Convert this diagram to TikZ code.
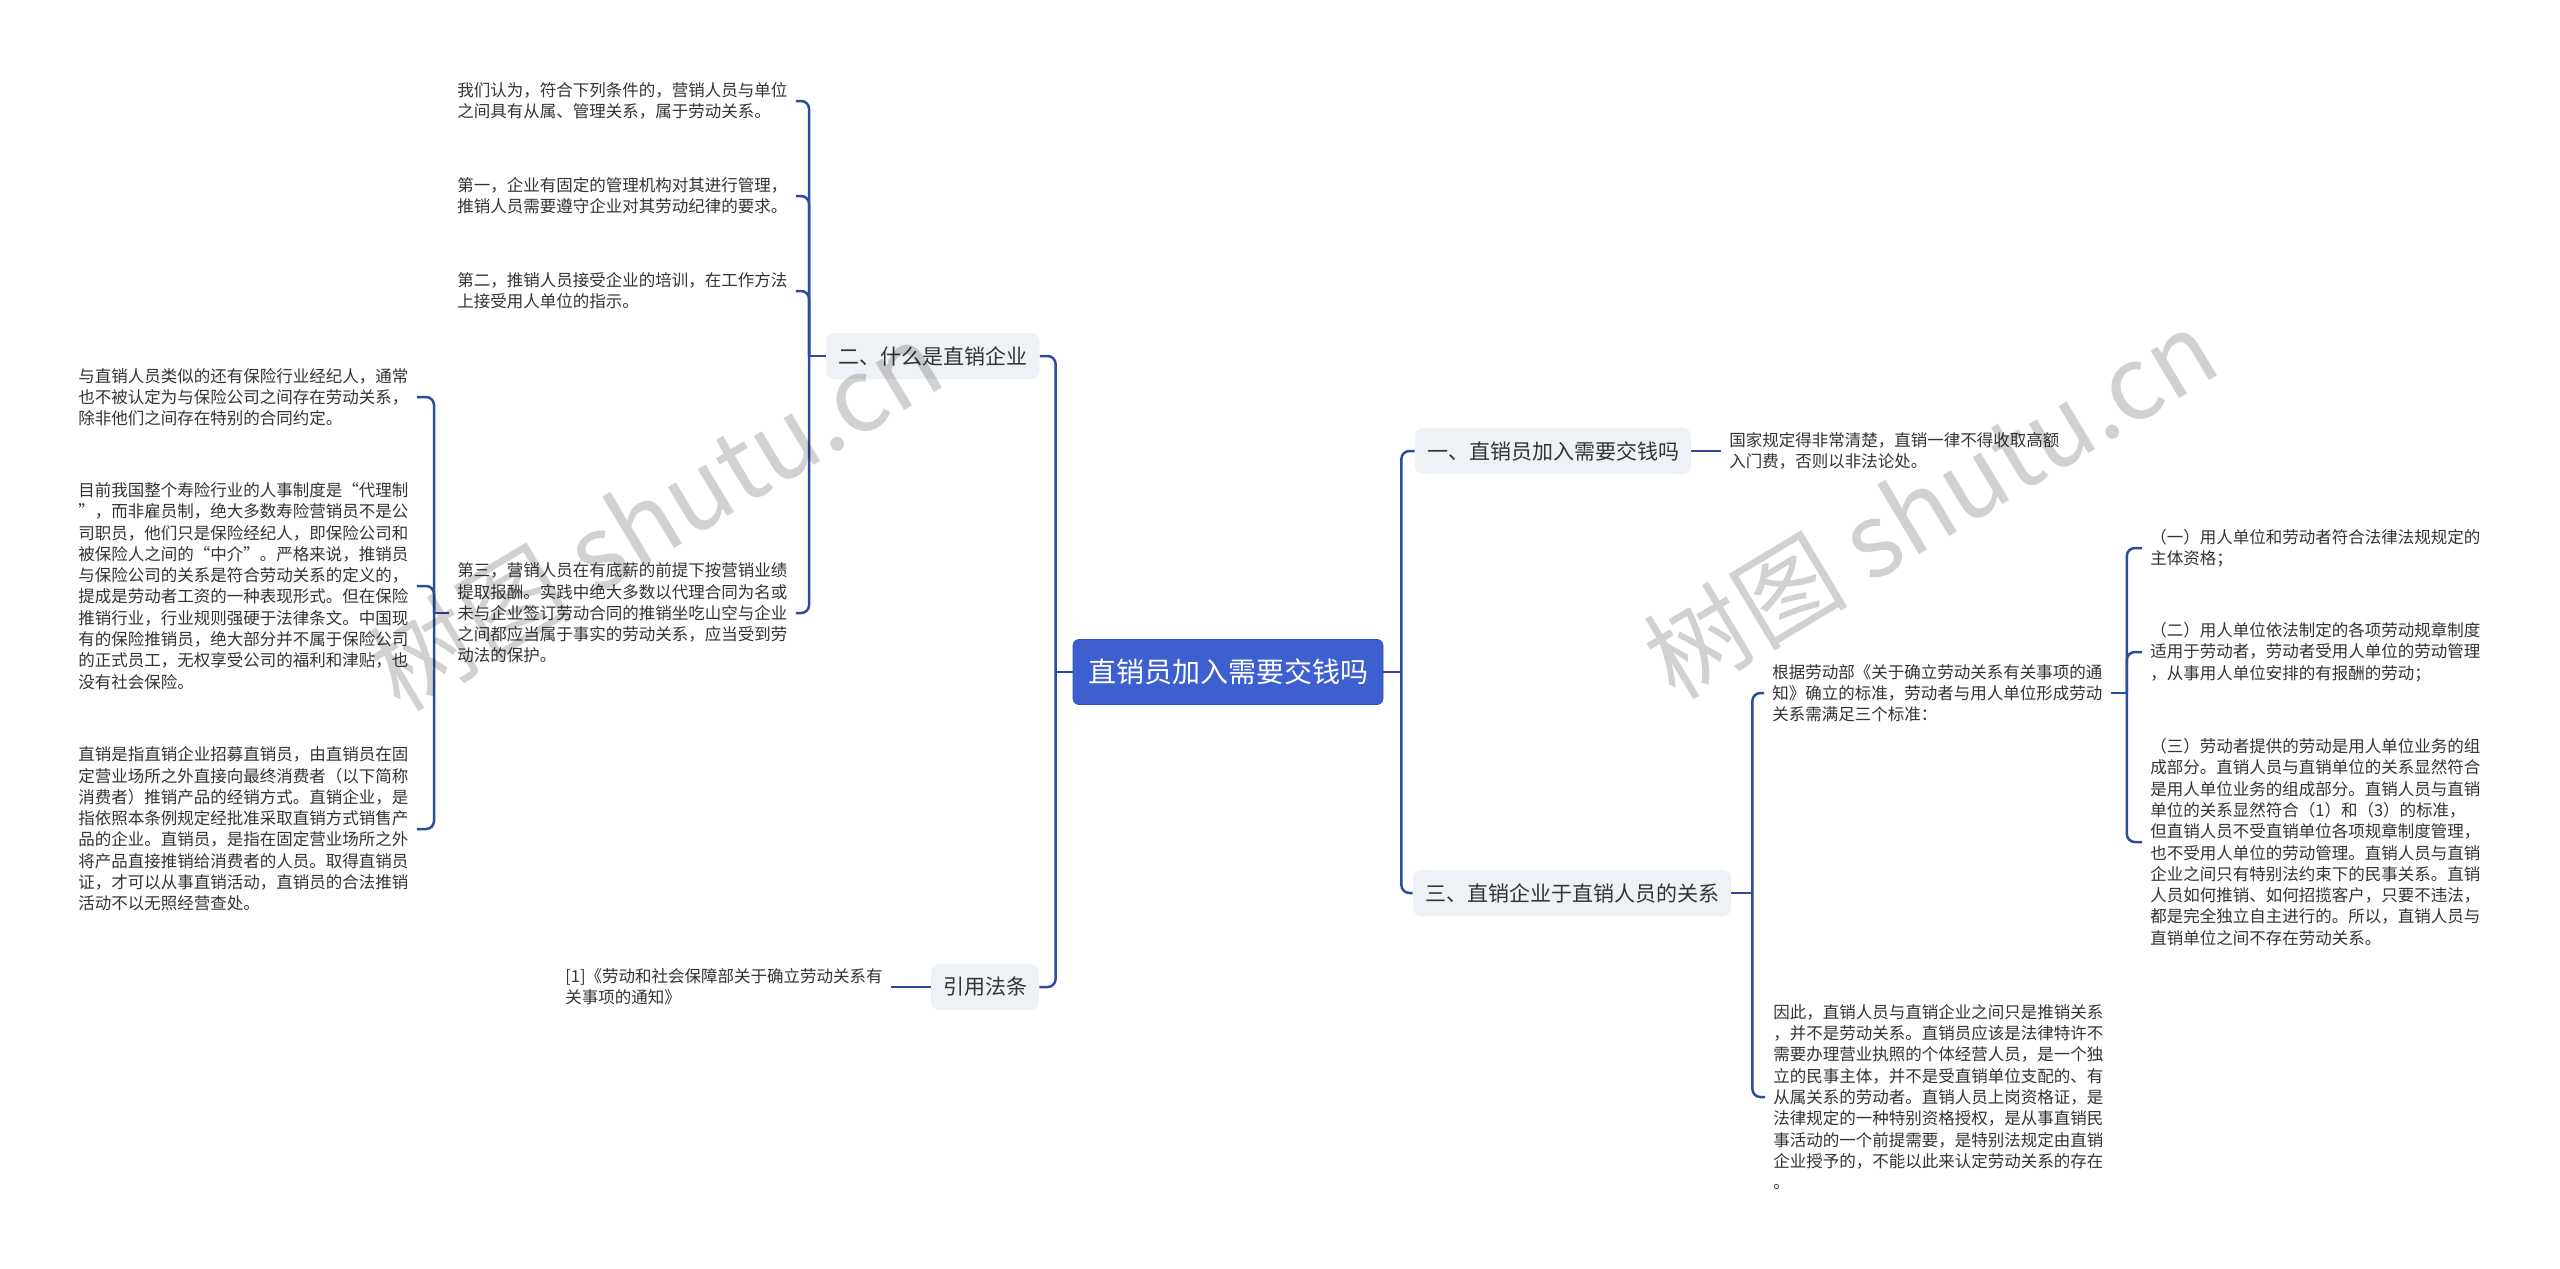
\documentclass[tikz,border=0pt]{standalone}
\usepackage{fontspec}
\setmainfont{Noto Sans CJK SC}
\usepackage{tikz}
\definecolor{rootblue}{HTML}{3D5FCF}
\definecolor{rootedge}{HTML}{3452B8}
\definecolor{linkblue}{HTML}{2E4C9E}
\definecolor{catgray}{HTML}{EEF1F5}
\definecolor{txt}{HTML}{333333}

\begin{document}
\begin{tikzpicture}[x=0.5pt,y=-0.5pt,
  rootbox/.style={fill=rootblue,draw=rootedge,rounded corners=3pt,text=white,font=\fontsize{14}{16}\selectfont,minimum width=155pt,minimum height=32.5pt,inner xsep=7.5pt},
  catbox/.style={fill=catgray,rounded corners=4pt,text=txt,font=\fontsize{10.5}{12}\selectfont,minimum height=23pt,inner xsep=6pt},
  leaf/.style={text=txt,font=\fontsize{8.25}{10.65}\selectfont,align=left,inner xsep=4pt,inner ysep=0pt},
  conn/.style={draw=linkblue,line width=1.25pt,rounded corners=4pt},
  wmark/.style={text=black,opacity=0.18,font=\fontsize{51}{56}\selectfont,rotate=31}]
\useasboundingbox (0,0) rectangle (2560,1269);

\node[rootbox] (root) at (1228,672) {直销员加入需要交钱吗};

\node[catbox] (c2) at (933,356) {二、什么是直销企业};
\node[catbox] (cref) at (985,987) {引用法条};
\node[catbox] (c1) at (1553,451) {一、直销员加入需要交钱吗};
\node[catbox] (c3) at (1572,893) {三、直销企业于直销人员的关系};

\node[leaf,anchor=west] (t1) at (1721,451) {国家规定得非常清楚，直销一律不得收取高额\\入门费，否则以非法论处。};
\node[leaf,anchor=west] (t2) at (1764,693) {根据劳动部《关于确立劳动关系有关事项的通\\知》确立的标准，劳动者与用人单位形成劳动\\关系需满足三个标准：};
\node[leaf,anchor=west] (t3a) at (2142,548) {（一）用人单位和劳动者符合法律法规规定的\\主体资格；};
\node[leaf,anchor=west] (t3b) at (2142,652) {（二）用人单位依法制定的各项劳动规章制度\\适用于劳动者，劳动者受用人单位的劳动管理\\，从事用人单位安排的有报酬的劳动；};
\node[leaf,anchor=west] (t3c) at (2142,842) {（三）劳动者提供的劳动是用人单位业务的组\\成部分。直销人员与直销单位的关系显然符合\\是用人单位业务的组成部分。直销人员与直销\\单位的关系显然符合（1）和（3）的标准，\\但直销人员不受直销单位各项规章制度管理，\\也不受用人单位的劳动管理。直销人员与直销\\企业之间只有特别法约束下的民事关系。直销\\人员如何推销、如何招揽客户，只要不违法，\\都是完全独立自主进行的。所以，直销人员与\\直销单位之间不存在劳动关系。};
\node[leaf,anchor=west] (t4) at (1765,1097) {因此，直销人员与直销企业之间只是推销关系\\，并不是劳动关系。直销员应该是法律特许不\\需要办理营业执照的个体经营人员，是一个独\\立的民事主体，并不是受直销单位支配的、有\\从属关系的劳动者。直销人员上岗资格证，是\\法律规定的一种特别资格授权，是从事直销民\\事活动的一个前提需要，是特别法规定由直销\\企业授予的，不能以此来认定劳动关系的存在\\。};

\node[leaf,anchor=west] (s0) at (449,101) {我们认为，符合下列条件的，营销人员与单位\\之间具有从属、管理关系，属于劳动关系。};
\node[leaf,anchor=west] (s1) at (449,196) {第一，企业有固定的管理机构对其进行管理，\\推销人员需要遵守企业对其劳动纪律的要求。};
\node[leaf,anchor=west] (s2) at (449,291) {第二，推销人员接受企业的培训，在工作方法\\上接受用人单位的指示。};
\node[leaf,anchor=west] (s3) at (449,613) {第三，营销人员在有底薪的前提下按营销业绩\\提取报酬。实践中绝大多数以代理合同为名或\\未与企业签订劳动合同的推销坐吃山空与企业\\之间都应当属于事实的劳动关系，应当受到劳\\动法的保护。};

\node[leaf,anchor=west] (l1) at (70,397) {与直销人员类似的还有保险行业经纪人，通常\\也不被认定为与保险公司之间存在劳动关系，\\除非他们之间存在特别的合同约定。};
\node[leaf,anchor=west] (l2) at (70,586) {目前我国整个寿险行业的人事制度是“代理制\\”，而非雇员制，绝大多数寿险营销员不是公\\司职员，他们只是保险经纪人，即保险公司和\\被保险人之间的“中介”。严格来说，推销员\\与保险公司的关系是符合劳动关系的定义的，\\提成是劳动者工资的一种表现形式。但在保险\\推销行业，行业规则强硬于法律条文。中国现\\有的保险推销员，绝大部分并不属于保险公司\\的正式员工，无权享受公司的福利和津贴，也\\没有社会保险。};
\node[leaf,anchor=west] (l3) at (70,829) {直销是指直销企业招募直销员，由直销员在固\\定营业场所之外直接向最终消费者（以下简称\\消费者）推销产品的经销方式。直销企业，是\\指依照本条例规定经批准采取直销方式销售产\\品的企业。直销员，是指在固定营业场所之外\\将产品直接推销给消费者的人员。取得直销员\\证，才可以从事直销活动，直销员的合法推销\\活动不以无照经营查处。};

\node[leaf,anchor=west] (ref) at (557,987) {[1]《劳动和社会保障部关于确立劳动关系有\\关事项的通知》};

\draw[conn] (root.west) -- ++(-17,0) coordinate (kl);
\foreach \c in {c2,cref} \draw[conn] (kl) |- (\c.east);
\draw[conn] (root.east) -- ++(18,0) coordinate (kr);
\foreach \c in {c1,c3} \draw[conn] (kr) |- (\c.west);
\draw[conn] (c1.east) -- (t1.west);
\draw[conn] (c2.west) -- ++(-17,0) coordinate (k2);
\foreach \c in {s0,s1,s2,s3} \draw[conn] (k2) |- (\c.east);
\draw[conn] (s3.west) -- ++(-15,0) coordinate (k3);
\foreach \c in {l1,l2,l3} \draw[conn] (k3) |- (\c.east);
\draw[conn] (cref.west) -- (ref.east);
\draw[conn] (c3.east) -- ++(21,0) coordinate (k4);
\foreach \c in {t2,t4} \draw[conn] (k4) |- (\c.west);
\draw[conn] (t2.east) -- ++(16,0) coordinate (k5);
\foreach \c in {t3a,t3b,t3c} \draw[conn] (k5) |- (\c.west);

% watermark
\node[wmark] (wm1) at (655,515) {树图 shutu.cn};
\node[wmark] (wm2) at (1930,503) {树图 shutu.cn};
\end{tikzpicture}
\end{document}
